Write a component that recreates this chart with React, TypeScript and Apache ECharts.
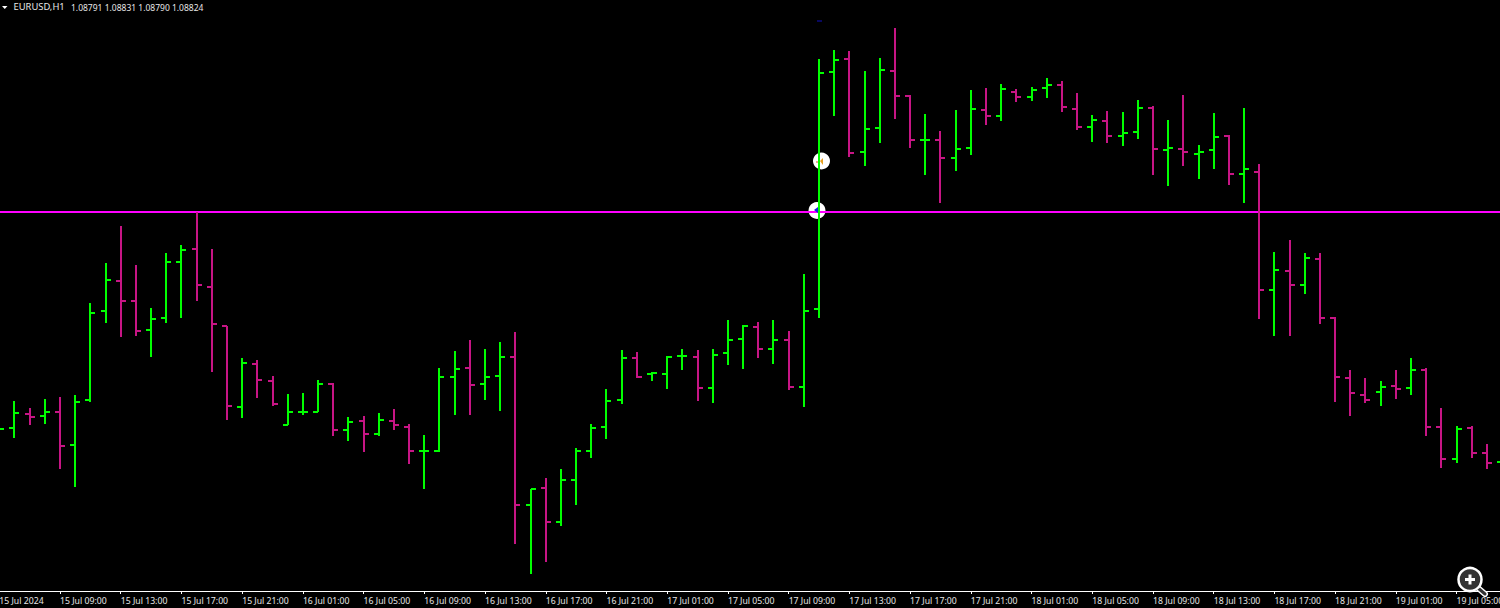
import React, { useEffect, useRef } from "react";
import * as echarts from "echarts";

// Prices are in points above 1.08000 (1 point = 0.00001), hourly bars from 15 Jul 2024 05:00.
const opens = [859,862,876,874,878,845,890,979,1009,989,960,972,1028,1041,1003,964,883,926,909,865,878,878,906,860,869,856,869,863,839,839,913,922,906,914,933,785,802,768,810,839,863,890,932,916,916,934,933,902,937,951,963,941,950,903,981,1218,1231,1138,1162,1219,1194,1150,1150,1132,1142,1180,1174,1198,1193,1202,1205,1181,1163,1169,1154,1158,1182,1140,1141,1136,1140,1154,1116,1118,1000,1019,1005,1031,972,912,895,898,904,902,920,863,831,862,837,828];
const highs = [862,889,882,891,893,895,987,1027,1064,1025,982,1037,1045,1078,1041,964,932,930,914,896,897,910,907,873,874,877,881,866,855,922,939,950,941,948,958,801,812,821,842,866,901,940,938,918,934,941,940,941,970,965,968,970,959,1016,1231,1240,1239,1219,1232,1262,1195,1176,1159,1180,1200,1202,1206,1201,1203,1212,1209,1197,1175,1179,1178,1190,1184,1170,1195,1145,1177,1155,1182,1126,1038,1050,1037,1037,973,920,912,909,920,932,922,882,864,864,846,834];
const lows = [859,852,865,866,821,803,888,967,953,954,933,967,972,989,918,870,872,892,884,865,875,878,854,849,838,854,860,826,801,838,875,875,890,879,746,716,728,764,785,832,851,886,912,909,901,920,889,887,925,921,932,926,900,883,972,1174,1133,1124,1147,1171,1142,1115,1087,1119,1135,1165,1169,1188,1189,1192,1178,1160,1148,1147,1144,1151,1115,1104,1124,1111,1121,1105,1087,971,954,954,996,966,888,874,887,884,891,895,854,822,827,832,821,820];
const closes = [861,877,873,878,844,888,977,1010,989,959,971,1028,1040,1005,966,884,927,910,886,878,878,906,860,868,856,870,865,839,839,913,921,905,913,933,785,801,768,810,839,862,889,932,913,917,933,934,902,935,950,964,941,950,903,979,1217,1230,1137,1161,1220,1194,1150,1150,1132,1141,1181,1174,1201,1193,1200,1205,1183,1163,1170,1154,1157,1182,1141,1142,1138,1138,1153,1116,1121,1000,1020,1005,1032,972,913,897,890,903,901,920,863,831,861,837,827,832];

const tickLabels = [
  "15 Jul 2024","15 Jul 09:00","15 Jul 13:00","15 Jul 17:00","15 Jul 21:00",
  "16 Jul 01:00","16 Jul 05:00","16 Jul 09:00","16 Jul 13:00","16 Jul 17:00","16 Jul 21:00",
  "17 Jul 01:00","17 Jul 05:00","17 Jul 09:00","17 Jul 13:00","17 Jul 17:00","17 Jul 21:00",
  "18 Jul 01:00","18 Jul 05:00","18 Jul 09:00","18 Jul 13:00","18 Jul 17:00","18 Jul 21:00",
  "19 Jul 01:00","19 Jul 05:00",
];
const symbolLabel = "EURUSD,H1";
const quoteLabel = "1.08791 1.08831 1.08790 1.08824";
const levelPrice = [1078];
// [bar index, price, kind]
const markerPoints = [
  [54, 1129, 0],
  [54, 1080, 1],
  [54, 1269, 2],
];

const UP = "#00ff00";
const DOWN = "#c71585";
const FONT = "Noto Sans";
const BAR_STEP = 15.18;

const categories = opens.map((_, i) => (i % 4 === 0 ? tickLabels[i / 4] ?? "" : ""));
const barRows = opens.map((o, i) => [i, o, highs[i], lows[i], closes[i]]);

function seg(x1: number, y1: number, x2: number, y2: number, color: string, w = 2) {
  return { type: "line", shape: { x1, y1, x2, y2 }, style: { stroke: color, lineWidth: w, fill: null } };
}

function renderBar(_: any, api: any) {
  const i = api.value(0);
  const o = api.value(1);
  const h = api.value(2);
  const l = api.value(3);
  const c = api.value(4);
  const x = Math.round(api.coord([i, o])[0]);
  const color = c >= o ? UP : DOWN;
  const y = (v: number) => Math.round(api.coord([i, v])[1]);
  return {
    type: "group",
    children: [
      seg(x, y(h), x, y(l), color),
      seg(x - 5, y(o), x, y(o), color),
      seg(x, y(c), x + 5, y(c), color),
    ],
  };
}

function renderDisc(_: any, api: any) {
  const kind = api.value(2);
  if (kind === 2) return { type: "group", children: [] };
  const p = api.coord([api.value(0), api.value(1)]);
  const cx = Math.round(p[0]) + (kind === 0 ? 2.5 : -2);
  return { type: "circle", shape: { cx, cy: p[1] + (kind === 0 ? 0 : 0.5), r: 8.5 }, style: { fill: "#ffffff" } };
}

function renderGlyph(_: any, api: any) {
  const kind = api.value(2);
  const p = api.coord([api.value(0), api.value(1)]);
  const x = Math.round(p[0]);
  const y = p[1];
  if (kind === 0) {
    return {
      type: "group",
      children: [
        { type: "polygon", shape: { points: [[x + 1, y], [x + 4, y - 3], [x + 4, y + 4]] }, style: { fill: "#e8a020" } },
        seg(x - 3, y + 1, x, y + 1, "#e05030", 1),
      ],
    };
  }
  if (kind === 1) {
    return {
      type: "polygon",
      shape: { points: [[x - 5, y], [x - 1, y - 3], [x - 1, y + 3]] },
      style: { fill: "#1020e0" },
    };
  }
  return seg(x - 2, y, x + 3, y, "#1010c0", 1);
}

export default function App() {
  const ref = useRef<HTMLDivElement>(null);
  useEffect(() => {
    const chart = echarts.init(ref.current!, null, { renderer: "svg" });
    chart.setOption({
      animation: false,
      backgroundColor: "#000000",
      grid: {
        left: -0.72,
        top: 0,
        width: BAR_STEP * (opens.length - 1),
        height: 591,
        containLabel: false,
        outerBoundsMode: "none",
      },
      xAxis: {
        type: "category",
        data: categories,
        boundaryGap: false,
        axisLine: { show: true, onZero: false, lineStyle: { color: "#ffffff", width: 1 } },
        axisTick: { show: true, interval: 3, length: 3, lineStyle: { color: "#ffffff", width: 1 } },
        axisLabel: {
          show: true,
          interval: 3,
          align: "left",
          margin: 5,
          color: "#e6e6e6",
          fontFamily: FONT,
          fontSize: 8.7,
          hideOverlap: false,
        },
        splitLine: { show: false },
      },
      yAxis: { type: "value", show: false, min: 699, max: 1290, splitLine: { show: false } },
      series: [
        {
          type: "custom",
          name: "discs",
          z: 1,
          silent: true,
          clip: false,
          data: markerPoints,
          encode: { x: 0, y: 1 },
          renderItem: renderDisc,
        },
        {
          type: "custom",
          name: "glyphs",
          z: 3,
          silent: true,
          clip: false,
          data: markerPoints,
          encode: { x: 0, y: 1 },
          renderItem: renderGlyph,
        },
        {
          type: "custom",
          name: "EURUSD,H1",
          z: 4,
          silent: true,
          clip: false,
          data: barRows,
          encode: { x: 0, y: [1, 2, 3, 4] },
          renderItem: renderBar,
          markLine: {
            z: 2,
            silent: true,
            symbol: "none",
            animation: false,
            label: { show: false },
            lineStyle: { color: "#ff00ff", width: 2, type: "solid" },
            data: levelPrice.map((v) => ({ yAxis: v })),
          },
        },
      ],
      graphic: [
        { type: "polygon", shape: { points: [[2, 6], [7.5, 6], [4.75, 9]] }, style: { fill: "#ffffff" } },
        { type: "text", x: 13.5, y: 2, style: { text: symbolLabel, fill: "#e6e6e6", font: `9.4px "${FONT}"` } },
        { type: "text", x: 71, y: 2.5, style: { text: quoteLabel, fill: "#e6e6e6", font: `8.5px "${FONT}"` } },
        { type: "line", z: 20, shape: { x1: 1478, y1: 588, x2: 1485, y2: 594 }, style: { stroke: "#ffffff", lineWidth: 6, lineCap: "round" } },
        { type: "line", z: 21, shape: { x1: 1478, y1: 588, x2: 1485, y2: 594 }, style: { stroke: "#333333", lineWidth: 3, lineCap: "round" } },
        { type: "circle", z: 22, shape: { cx: 1470, cy: 579.5, r: 11.5 }, style: { fill: "#333333", stroke: "#ffffff", lineWidth: 2.5 } },
        { type: "line", z: 23, shape: { x1: 1465, y1: 579.5, x2: 1475, y2: 579.5 }, style: { stroke: "#ffffff", lineWidth: 3 } },
        { type: "line", z: 23, shape: { x1: 1470, y1: 574.5, x2: 1470, y2: 584.5 }, style: { stroke: "#ffffff", lineWidth: 3 } },
      ],
    });
    return () => chart.dispose();
  }, []);
  return <div ref={ref} style={{ position: "fixed", left: 0, top: 0, width: 1500, height: 608 }} />;
}
